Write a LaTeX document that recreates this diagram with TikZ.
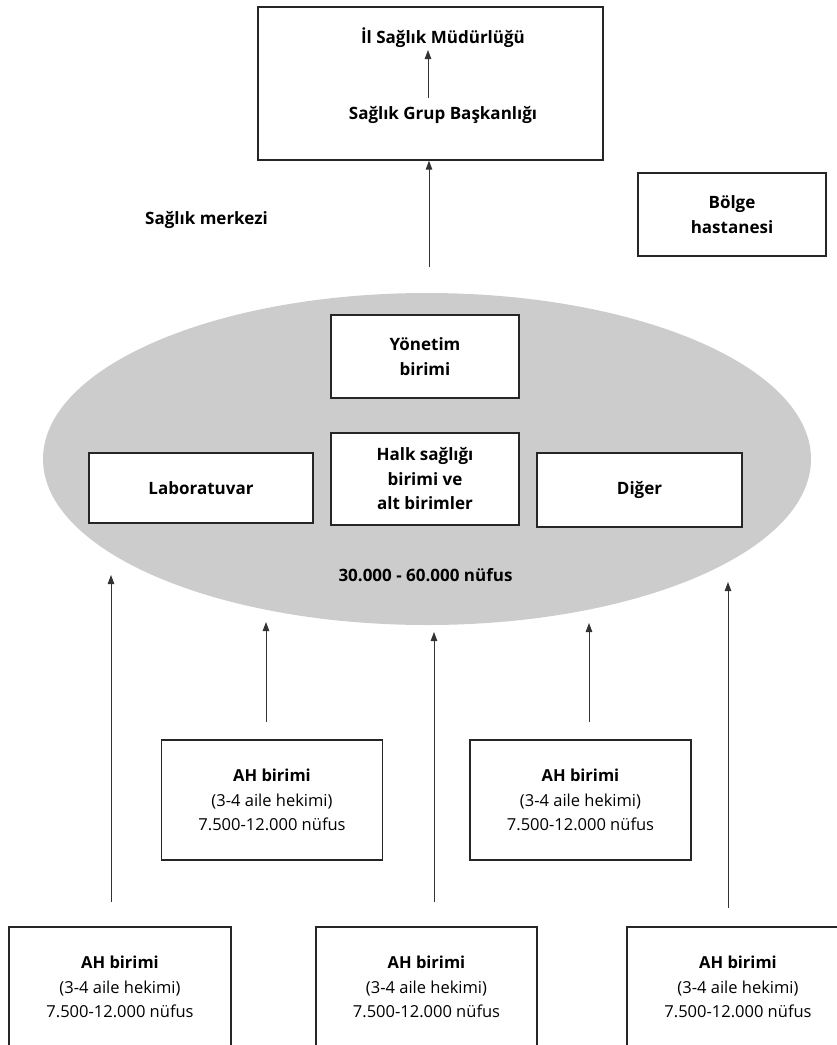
\documentclass[tikz,border=0pt]{standalone}
\usepackage{fontspec}
\setmainfont{Open Sans}
\usetikzlibrary{arrows.meta,positioning,shapes.geometric}
\tikzset{
  unit/.style={draw=black!85, line width=1.3pt, fill=white, align=center, inner sep=0pt,
    font=\fontsize{17}{24.5}\selectfont\bfseries},
  ahbox/.style={unit, minimum width=221pt, minimum height=120pt,
    font=\fontsize{16.5}{24.5}\selectfont},
  lbl/.style={align=center, inner sep=0pt, font=\fontsize{17}{24.5}\selectfont\bfseries},
  up/.style={-{Triangle[length=9pt,width=6.5pt]}, line width=0.9pt, draw=black!80}
}
\newcommand{\ahtext}{\textbf{AH birimi}\\(3-4 aile hekimi)\\7.500-12.000 nüfus}

\begin{document}
\begin{tikzpicture}[x=1pt,y=-1pt]
  \clip (0,0) rectangle (837,1045);

  % il duzeyi
  \node[unit, minimum width=345pt, minimum height=153pt] (il) at (430.5,83.5) {};
  \node[lbl] (ilsm) at (443,38) {İl Sağlık Müdürlüğü};
  \node[lbl] (sgb) at (443,115) {Sağlık Grup Başkanlığı};
  \node[unit, minimum width=188pt, minimum height=83pt] (bolge) at (732,214.5) {Bölge\\hastanesi};
  \node[lbl] (smlbl) at (206.5,220) {Sağlık merkezi};

  % saglik merkezi
  \node[ellipse, fill=black!20, inner sep=0pt, minimum width=768pt, minimum height=332pt] (sm) at (427,459) {};
  \node[unit, minimum width=188pt, minimum height=83pt] (yon) at (425,356.5) {Yönetim\\birimi};
  \node[unit, minimum width=188pt, minimum height=92pt] (halk) at (425,479) {Halk sağlığı\\birimi ve\\alt birimler};
  \node[unit, minimum width=224pt, minimum height=70pt] (lab) at (201,488) {Laboratuvar};
  \node[unit, minimum width=205pt, minimum height=74pt] (diger) at (639.5,490) {Diğer};
  \node[lbl] (nufus) at (425.5,575) {30.000 - 60.000 nüfus};

  % AH birimleri
  \node[ahbox] (ahA) at (272,800) {\ahtext};
  \node[ahbox] (ahB) at (580.5,800) {\ahtext};
  \node[ahbox, minimum width=222pt] (ah1) at (120,987) {\ahtext};
  \node[ahbox] (ah2) at (426.5,987) {\ahtext};
  \node[ahbox, minimum width=222pt] (ah3) at (738,987) {\ahtext};

  % ok uclari
  \coordinate (sgbup) at (428,98);
  \coordinate (ilup) at (428,50);
  \coordinate (smtop) at (429,267);
  \coordinate (ahAs) at (266,722);
  \coordinate (ahAe) at (266,622);
  \coordinate (ahBs) at (589,722);
  \coordinate (ahBe) at (589,623);
  \coordinate (ah1s) at (111,902);
  \coordinate (ah1e) at (111,575);
  \coordinate (ah2s) at (434,902);
  \coordinate (ah2e) at (434,632);
  \coordinate (ah3s) at (728,908);
  \coordinate (ah3e) at (728,582);

  \draw[up] (sgbup) -- (ilup);
  \draw[up] (smtop) -- (il.south -| smtop);
  \draw[up] (ahAs) -- (ahAe);
  \draw[up] (ahBs) -- (ahBe);
  \draw[up] (ah1s) -- (ah1e);
  \draw[up] (ah2s) -- (ah2e);
  \draw[up] (ah3s) -- (ah3e);
\end{tikzpicture}
\end{document}
